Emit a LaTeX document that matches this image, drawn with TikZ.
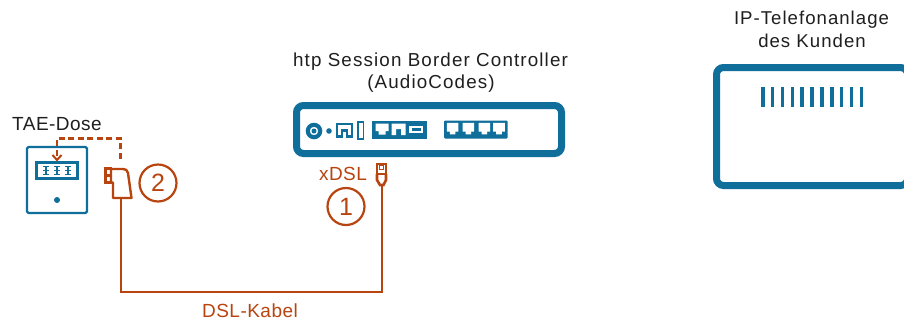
\documentclass[tikz,border=0pt]{standalone}
\usepackage{fontspec}
\setmainfont[LetterSpace=2.5]{Liberation Sans}
\usetikzlibrary{arrows.meta}
\definecolor{hblue}{HTML}{0F6E9A}
\definecolor{horange}{HTML}{B8440F}
\tikzset{
  lab/.style={inner sep=0pt,anchor=base,font=\fontsize{19}{22}\selectfont,text=black!88},
  iplab/.style={lab,font=\fontsize{18.6}{22}\selectfont\addfontfeature{LetterSpace=5.5}},
  titlelab/.style={lab,font=\fontsize{18.8}{22}\selectfont\addfontfeature{LetterSpace=6}},
  olab/.style={lab,text=horange},
  num/.style={circle,draw=horange,line width=2.2pt,minimum size=37pt,inner sep=0pt,text=horange,font=\fontsize{25}{25}\selectfont},
  thick device/.style={draw=hblue,line width=7pt,rounded corners=7pt},
  wire/.style={draw=horange,line width=2.4pt},
}
\begin{document}
\begin{tikzpicture}[x=1pt,y=-1pt]
\useasboundingbox (0,0) rectangle (904,322);
\fill[white] (0,0) rectangle (904,322);
% texts
\node[titlelab] (tl1) at (430.5,66) {htp Session Border Controller};
\node[titlelab] (tl2) at (431,88) {(AudioCodes)};
\node[iplab] (ip1) at (811.5,24) {IP-Telefonanlage};
\node[iplab] (ip2) at (812,47.5) {des Kunden};
\node[lab] (taelab) at (57,130.5) {TAE-Dose};
\node[olab] (xdsl) at (343,180) {xDSL};
\node[olab] (kabel) at (250,317) {DSL-Kabel};
\node[num] (n1) at (346,206.5) {1};
\node[num] (n2) at (158,183) {2};
% SBC
\draw[thick device] (296.5,105.5) rectangle (561.5,153.5);
\fill[hblue,even odd rule] (314,131) circle (8.3) (314,131) circle (4.3);
\fill[hblue] (314,131) circle (2.5);
\fill[hblue] (329,131) circle (2.8);
\draw[hblue,line width=2.4pt] (337,136.5) -- (337,124) -- (352,124) -- (352,136.5) -- (346.8,136.5) -- (346.8,130.5) -- (342.2,130.5) -- (342.2,136.5) -- cycle;
\draw[hblue,line width=1.6pt] (358,122) rectangle (363.5,139);
\fill[hblue] (372,120.5) rectangle (427,138.5);
\fill[white] (375.5,123.5) -- (388.5,123.5) -- (388.5,131) -- (385.5,131) -- (385.5,134.5) -- (378.5,134.5) -- (378.5,131) -- (375.5,131) -- cycle;
\fill[white] (391.5,123.5) -- (405.5,123.5) -- (405.5,135) -- (401,135) -- (401,129) -- (396,129) -- (396,135) -- (391.5,135) -- cycle;
\fill[white] (409,125.5) rectangle (423,133);
\fill[hblue] (411.5,127.8) rectangle (420.5,130.7);
\fill[hblue,rounded corners=1pt] (444,120.5) rectangle (507.5,138.5);
\foreach \x in {446.8,462.6,478.6,493.2}{
  \fill[white] (\x,122.8) -- ++(11.6,0) -- ++(0,8.8) -- ++(-3,0) -- ++(0,2.8) -- ++(-5.6,0) -- ++(0,-2.8) -- ++(-3,0) -- cycle;
}
% IP box
\begin{scope}
\clip (0,0) rectangle (904,322);
\draw[thick device] (716.5,67.5) rectangle (907.6,185.5);
\end{scope}
\foreach \i in {0,...,10}{
  \fill[hblue] ({761+9.85*\i},87) rectangle ++(3.6,20);
}
% TAE socket
\node[draw=hblue,line width=2.2pt,rounded corners=1.5pt,minimum width=60pt,minimum height=66pt,inner sep=0pt] (tae) at (57,180) {};
\draw[hblue,line width=2.4pt] (36.5,162.5) rectangle (77.5,178.5);
\foreach \x in {46,57,68}{
  \draw[hblue,line width=1.6pt] (\x,166) -- (\x,175);
  \draw[hblue,line width=1.5pt] (\x-3,166.5) -- (\x+3,166.5) (\x-3,170.5) -- (\x+3,170.5) (\x-3,174.5) -- (\x+3,174.5);
}
\fill[hblue] (57,200) circle (3);
% TAE plug
\draw[wire,line join=round] (111,169) -- (123,169) .. controls (126,169) and (127,170) .. (128,173) -- (131.5,198) -- (113,198) -- (113,182.5) -- (111,182.5) -- cycle;
\draw[wire,line width=2.2pt] (105.5,168.5) rectangle (111,175.5) (105.5,175.5) rectangle (111,182.5);
\node[inner sep=0pt,minimum size=0pt] (taeplug) at (121,198) {};
\node[inner sep=0pt,minimum size=0pt] (dashend) at (120.5,159) {};
% RJ plug
\draw[wire,line width=2pt] (377,163.5) rectangle (386,174);
\draw[horange,line width=1pt] (379.5,165) rectangle (383.5,169.5);
\draw[wire,line width=2.6pt] (377,174) -- (377,180) -- (380,185) -- (383.5,185) -- (386,180) -- (386,174);
\node[inner sep=0pt,minimum size=0pt] (rjplug) at (381.7,185) {};
% cable
\coordinate (bus) at (0,292);
\draw[wire] (taeplug) -- (taeplug |- bus) -- (rjplug |- bus) -- (rjplug);
% dashed link
\coordinate (dashtop) at (0,138.5);
\draw[wire,line width=2.8pt,dash pattern=on 6pt off 3.5pt,-{Straight Barb[length=5pt,width=9pt,line width=2pt]}] (dashend) -- (dashend |- dashtop) -- (tae.north |- dashtop) -- ([yshift=-1.5pt]tae.north |- 0,160);
\end{tikzpicture}
\end{document}
